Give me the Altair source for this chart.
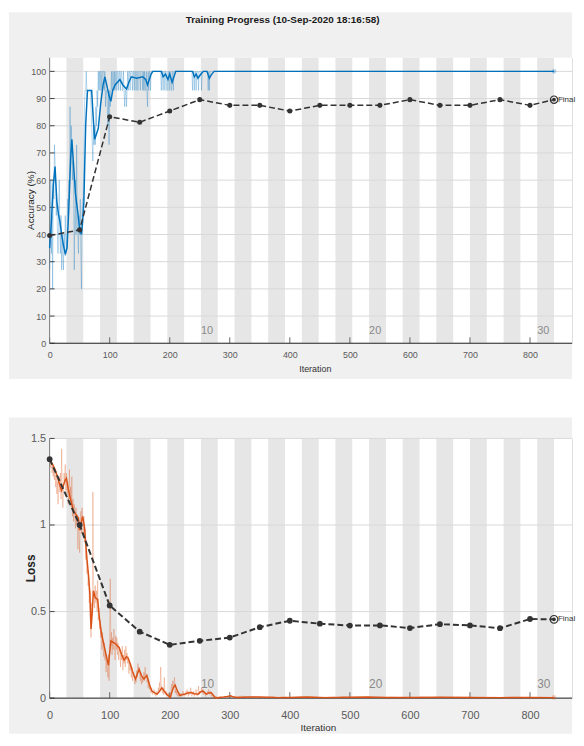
import altair as alt
import pandas as pd

# ---------------- data ----------------
epochs = list(range(1, 31))
iters_per_epoch = 28
epoch_label_epochs = [10, 20, 30]
x_ticks = [0, 100, 200, 300, 400, 500, 600, 700, 800]
acc_ticks = [0, 10, 20, 30, 40, 50, 60, 70, 80, 90, 100]
loss_ticks = [0, 0.5, 1, 1.5]

# raw mini-batch accuracy, per iteration 0..279, then the last iteration 840
acc_raw_val = (
    [27, 40, 60, 33, 47, 20, 60, 53, 73, 67, 60, 47, 53, 40, 33, 47, 60, 40, 33, 47, 27, 40, 33, 27, 40, 33, 47, 40]
    + [33, 40, 53, 47, 60, 53, 87, 67, 80, 73, 60, 67, 53, 27, 47, 60, 40, 73, 47, 40, 33, 47, 40, 53, 33, 20, 47, 53]
    + [53, 73, 87, 93, 93, 100, 93, 93, 93, 93, 93, 93, 93, 87, 80, 73, 67, 80, 73, 80, 73, 87, 80, 93, 87, 100, 93, 100]
    + [93, 100, 100, 93, 100, 100, 100, 93, 100, 87, 93, 93, 87, 80, 93, 73, 93, 87, 93, 100, 93, 100, 100, 93, 100, 93, 100, 100]
    + [93, 100, 100, 93, 100, 100, 93, 100, 100, 93, 93, 100, 93, 87, 93, 93, 87, 93, 100, 93, 100, 100, 93, 100, 100, 100, 93, 100]
    + [100, 93, 100, 100, 93, 100, 100, 93, 100, 100, 100, 93, 100, 100, 100, 93, 100, 93, 100, 93, 93, 100, 93, 87, 100, 93, 100, 100]
    + [93, 100, 100, 100, 100, 100, 100, 100, 100, 100, 100, 100, 100, 100, 100, 100, 100, 100, 93, 100, 100, 93, 100, 100, 93, 100, 100, 93]
    + [93, 100, 100, 93, 100, 100, 93, 93, 100, 100, 93, 100, 100, 100, 100, 100, 100, 100, 100, 100, 100, 100, 100, 100, 100, 100, 100, 100]
    + [100, 100, 100, 100, 100, 100, 100, 100, 100, 100, 100, 100, 100, 100, 93, 100, 100, 93, 100, 100, 93, 100, 100, 100, 93, 100, 100, 100]
    + [100, 93, 100, 100, 100, 100, 100, 100, 100, 100, 100, 100, 93, 100, 93, 100, 100, 100, 100, 100, 100, 100, 100, 100, 100, 100, 100, 100]
    + [100]
)
acc_raw_iter = list(range(0, 280)) + [840]

# smoothed training accuracy
acc_sm_iter = [0, 3, 6, 9, 12, 15, 17, 20, 23, 26, 29, 32, 35, 37, 40, 43, 47, 50, 53, 55, 57, 60, 63, 70,
               72, 75, 78, 81, 85, 89, 92, 95, 99, 102, 105, 109, 113, 117, 122, 128, 132, 136, 145, 155,
               160, 163, 166, 169, 172, 186, 189, 193, 197, 200, 204, 207, 210, 238, 241, 244, 247, 252,
               256, 262, 266, 270, 274, 840]
acc_sm_val = [35, 45, 58, 65, 52, 47, 45, 40, 36, 33, 35, 50, 68, 75, 65, 55, 48, 42, 40, 45, 52, 80, 93, 93,
              85, 75, 77, 79, 88, 95, 98, 95, 91, 89, 93, 95, 96, 97, 95, 93.5, 96, 98, 97.5, 98,
              97, 95, 97, 99, 100, 100, 98, 99, 97, 99, 96, 98, 100, 100, 98, 99, 97.5, 99,
              100, 100, 97.5, 99, 100, 100]

# raw mini-batch loss, per iteration 0..279, then every 10 iterations 290..840
loss_raw_val = (
    [1.38, 1.36, 1.33, 1.37, 1.30, 1.34, 1.28, 1.32, 1.26, 1.30, 1.22, 1.29, 1.18, 1.25, 1.12, 1.22, 1.28, 1.19, 1.30, 1.15, 1.44, 1.22, 1.10, 1.18, 1.30, 1.25, 1.35, 1.20]
    + [1.30, 1.18, 1.25, 1.12, 1.20, 1.32, 1.15, 1.22, 1.10, 1.28, 1.05, 1.15, 1.02, 1.12, 1.08, 0.98, 1.10, 1.00, 1.06, 0.86, 1.02, 0.95, 0.84, 1.00, 1.08, 0.95, 1.10, 1.02]
    + [0.95, 1.05, 0.90, 0.98, 0.80, 0.85, 0.72, 0.78, 0.65, 0.70, 0.55, 0.62, 0.42, 0.35, 0.55, 0.48, 1.19, 0.70, 0.60, 0.52, 0.65, 0.55, 0.62, 0.50, 0.68, 0.45, 0.52, 0.40]
    + [0.45, 0.35, 0.40, 0.28, 0.38, 0.30, 0.24, 0.32, 0.22, 0.26, 0.15, 0.22, 0.18, 0.12, 0.25, 0.10, 0.40, 0.69, 0.30, 0.38, 0.25, 0.35, 0.28, 0.40, 0.30, 0.22, 0.36, 0.28]
    + [0.35, 0.25, 0.32, 0.22, 0.30, 0.28, 0.18, 0.26, 0.22, 0.30, 0.16, 0.25, 0.20, 0.28, 0.18, 0.30, 0.22, 0.26, 0.20, 0.24, 0.14, 0.22, 0.16, 0.20, 0.12, 0.18, 0.10, 0.15]
    + [0.14, 0.10, 0.08, 0.12, 0.09, 0.16, 0.12, 0.20, 0.15, 0.18, 0.13, 0.10, 0.14, 0.08, 0.12, 0.09, 0.11, 0.15, 0.10, 0.18, 0.12, 0.14, 0.09, 0.11, 0.06, 0.10, 0.05, 0.07]
    + [0.05, 0.03, 0.06, 0.02, 0.04, 0.03, 0.05, 0.02, 0.03, 0.01, 0.04, 0.03, 0.02, 0.06, 0.04, 0.09, 0.05, 0.18, 0.07, 0.04, 0.03, 0.06, 0.02, 0.12, 0.03, 0.02, 0.04, 0.01]
    + [0.02, 0.01, 0.03, 0.00, 0.01, 0.00, 0.05, 0.08, 0.04, 0.10, 0.06, 0.09, 0.12, 0.03, 0.05, 0.02, 0.04, 0.01, 0.02, 0.01, 0.03, 0.01, 0.02, 0.03, 0.01, 0.02, 0.04, 0.02]
    + [0.03, 0.01, 0.02, 0.04, 0.02, 0.05, 0.03, 0.01, 0.04, 0.02, 0.03, 0.06, 0.02, 0.01, 0.03, 0.02, 0.04, 0.01, 0.02, 0.03, 0.05, 0.02, 0.01, 0.03, 0.07, 0.02, 0.04, 0.03]
    + [0.04, 0.06, 0.03, 0.05, 0.02, 0.04, 0.03, 0.02, 0.01, 0.03, 0.02, 0.04, 0.03, 0.05, 0.02, 0.04, 0.03, 0.01, 0.02, 0.01, 0.00, 0.01, 0.00, 0.01, 0.00, 0.00, 0.01, 0.00]
    + [0.005, 0.010, 0.006, 0.012, 0.004, 0.008, 0.003, 0.006, 0.010, 0.004,
       0.007, 0.003, 0.005, 0.008, 0.004, 0.006, 0.003, 0.005, 0.007, 0.004,
       0.009, 0.003, 0.005, 0.004, 0.006, 0.003, 0.005, 0.004, 0.006, 0.003,
       0.004, 0.005, 0.003, 0.006, 0.004, 0.003, 0.005, 0.004, 0.003, 0.005,
       0.004, 0.006, 0.003, 0.004, 0.003, 0.005, 0.004, 0.003, 0.004, 0.005,
       0.003, 0.004, 0.003, 0.004, 0.003, 0.004]
)
loss_raw_iter = list(range(0, 280)) + list(range(290, 841, 10))

# smoothed training loss
loss_sm_iter = [0, 5, 9, 13, 16, 20, 23, 26, 28, 31, 34, 37, 40, 44, 48, 50, 53, 55, 58, 62, 65, 67, 69, 71,
                73, 76, 80, 83, 86, 89, 94, 98, 102, 107, 111, 116, 120, 124, 128, 131, 135, 138, 143,
                146, 149, 153, 157, 162, 166, 170, 175, 179, 183, 187, 191, 195, 201, 204, 206, 209, 213,
                217, 221, 225, 230, 236, 241, 247, 251, 255, 261, 265, 269, 273, 277, 284, 290, 296, 301,
                307, 312, 330, 351, 380, 400, 430, 460, 500, 530, 560, 600, 650, 700, 750, 800, 840]
loss_sm_val = [1.38, 1.35, 1.32, 1.28, 1.24, 1.20, 1.23, 1.26, 1.27, 1.21, 1.16, 1.12, 1.08, 1.06, 1.04, 0.97,
               1.02, 1.05, 0.99, 0.81, 0.70, 0.60, 0.40, 0.50, 0.62, 0.58, 0.57, 0.46, 0.38, 0.33, 0.25,
               0.19, 0.33, 0.32, 0.31, 0.29, 0.25, 0.22, 0.24, 0.23, 0.19, 0.155, 0.11, 0.14, 0.166,
               0.13, 0.11, 0.13, 0.08, 0.042, 0.03, 0.023, 0.04, 0.06, 0.04, 0.023, 0.004, 0.04, 0.06,
               0.075, 0.04, 0.015, 0.02, 0.023, 0.03, 0.032, 0.025, 0.023, 0.035, 0.042, 0.023, 0.03,
               0.032, 0.015, 0.0, 0.005, 0.007, 0.01, 0.013, 0.006, 0.004, 0.006, 0.007, 0.003, 0.004,
               0.006, 0.003, 0.005, 0.007, 0.004, 0.004, 0.005, 0.004, 0.003, 0.004, 0.003]

# validation
val_iter = [0, 50, 100, 150, 200, 250, 300, 350, 400, 450, 500, 550, 600, 650, 700, 750, 800, 840]
acc_val = [39.6, 41.7, 83.3, 81.3, 85.4, 89.6, 87.5, 87.5, 85.4, 87.5, 87.5, 87.5, 89.6, 87.5, 87.5, 89.6, 87.5, 89.6]
loss_val = [1.38, 1.00, 0.535, 0.384, 0.308, 0.331, 0.350, 0.41, 0.447, 0.43, 0.419, 0.42, 0.405, 0.427,
            0.42, 0.404, 0.457, 0.455]

title_text = "Training Progress (10-Sep-2020 18:16:58)"

# ---------------- tables ----------------
bands_df = pd.DataFrame({
    "start": [(e - 1) * iters_per_epoch for e in epochs if e % 2 == 0],
    "end": [e * iters_per_epoch for e in epochs if e % 2 == 0],
})
ep_df = pd.DataFrame({"x": [(e - 1) * iters_per_epoch for e in epoch_label_epochs],
                      "t": [str(e) for e in epoch_label_epochs]})
xt_df = pd.DataFrame({"x": x_ticks})
one = pd.DataFrame({"a": [0]})

FONT_N = "Liberation Sans Narrow, Liberation Sans, Arial, sans-serif"
FONT = "Liberation Sans, Arial, sans-serif"
RIGHT = 527  # right edge of the grey panel, relative to the plot's left edge


def panel(W, H, xmax, ymax, yticks, yfmt, raw_x, raw_y, sm_x, sm_y, v_y, color,
          ytitle, ytitle_size, ytitle_weight, lab_size, xlab_pad, ep_size, ep_dy,
          xtitle_x, xtitle_y, xtitle_size, top_ext, bot_ext, dash_w, dot_size, ring_size,
          title=None):
    xs = alt.Scale(domain=[0, xmax], nice=False, zero=False)
    ys = alt.Scale(domain=[0, ymax], nice=False, zero=False)
    xax = alt.Axis(values=x_ticks, ticks=False, grid=False, domain=False, labelFont=FONT_N,
                   labelFontSize=lab_size, labelColor="#5a5a5a", labelPadding=xlab_pad,
                   title=None, zindex=1, format="d", labelFlush=False)
    yax = alt.Axis(values=yticks, ticks=False, grid=False, domain=False, labelFont=FONT_N,
                   labelFontSize=lab_size, labelColor="#5a5a5a", labelPadding=4,
                   title=None, zindex=1, format=yfmt)

    def X(f):
        return alt.X(f, type="quantitative", scale=xs, axis=xax)

    def Y(f):
        return alt.Y(f, type="quantitative", scale=ys, axis=yax)

    yt_df = pd.DataFrame({"y": yticks})
    raw_df = pd.DataFrame({"it": raw_x, "v": raw_y})
    sm_df = pd.DataFrame({"it": sm_x, "v": sm_y})
    val_df = pd.DataFrame({"it": val_iter, "v": v_y})
    val_pts = val_df[val_df["it"] <= 800]
    fin = val_df[val_df["it"] == val_iter[-1]].assign(lab="Final")
    end_df = raw_df[raw_df["it"] == raw_x[-1]]

    layers = [
        alt.Chart(one).mark_rect(color="#f0f0f0").encode(
            x=alt.value(-41), x2=alt.value(RIGHT), y=alt.value(-top_ext), y2=alt.value(H + bot_ext)),
        alt.Chart(one).mark_rect(color="#ffffff").encode(
            x=alt.value(0), x2=alt.value(W), y=alt.value(0), y2=alt.value(H)),
        alt.Chart(bands_df).mark_rect(color="#e6e6e6").encode(
            x=X("start"), x2="end", y=alt.value(0), y2=alt.value(H)),
        alt.Chart(yt_df).mark_rule(color="#d9d9d9", strokeWidth=1).encode(y=Y("y")),
        alt.Chart(yt_df).mark_rule(color="#444444", strokeWidth=1).encode(
            y=Y("y"), x=alt.value(0), x2=alt.value(5)),
        alt.Chart(xt_df).mark_rule(color="#666666", strokeWidth=1).encode(
            x=X("x"), y=alt.value(H - 6), y2=alt.value(H)),
        alt.Chart(one).mark_rule(color="#777777", strokeWidth=1).encode(
            x=alt.value(0), y=alt.value(0), y2=alt.value(H)),
        alt.Chart(one).mark_rule(color="#262626", strokeWidth=1).encode(
            x=alt.value(0), x2=alt.value(W), y=alt.value(H)),
        alt.Chart(ep_df).mark_text(align="left", baseline="middle", font=FONT_N, fontSize=ep_size,
                                   color="#8a8a8a").encode(
            x=X("x"), y=alt.value(H - ep_dy), text="t:N"),
        alt.Chart(raw_df).mark_line(color=color, strokeWidth=1, opacity=0.28).encode(
            x=X("it"), y=Y("v")),
        alt.Chart(sm_df).mark_line(color=color, strokeWidth=1.5).encode(x=X("it"), y=Y("v")),
        alt.Chart(end_df).mark_circle(color=color, opacity=0.3, size=22).encode(x=X("it"), y=Y("v")),
        alt.Chart(val_df).mark_line(color="#333333", strokeWidth=dash_w, strokeDash=[6, 3]).encode(
            x=X("it"), y=Y("v")),
        alt.Chart(val_pts).mark_circle(color="#333333", opacity=1, size=dot_size).encode(
            x=X("it"), y=Y("v")),
        alt.Chart(fin).mark_point(shape="circle", filled=False, color="#333333", strokeWidth=1.2,
                                  size=ring_size, opacity=1).encode(x=X("it"), y=Y("v")),
        alt.Chart(fin).mark_circle(color="#333333", opacity=1, size=14).encode(x=X("it"), y=Y("v")),
        alt.Chart(fin).mark_text(align="left", baseline="middle", dx=4, font=FONT_N, fontSize=8,
                                 color="#333333").encode(x=X("it"), y=Y("v"), text="lab:N"),
        alt.Chart(one).mark_text(angle=270, baseline="middle", align="center", font=FONT,
                                 fontSize=ytitle_size, fontWeight=ytitle_weight, color="#262626").encode(
            x=alt.value(-19), y=alt.value(H / 2), text=alt.value(ytitle)),
        alt.Chart(one).mark_text(baseline="middle", align="center", font=FONT_N,
                                 fontSize=xtitle_size, color="#333333").encode(
            x=alt.value(xtitle_x), y=alt.value(xtitle_y), text=alt.value("Iteration")),
    ]
    if title:
        layers.append(
            alt.Chart(one).mark_text(baseline="middle", align="center", font=FONT_N, fontSize=10,
                                     fontWeight="bold", color="#1a1a1a").encode(
                x=alt.value(235), y=alt.value(-38), text=alt.value(title)))
    return alt.layer(*layers).properties(width=W, height=H)


top = panel(W=RIGHT, H=288, xmax=870, ymax=105, yticks=acc_ticks, yfmt="d",
            raw_x=acc_raw_iter, raw_y=acc_raw_val, sm_x=acc_sm_iter, sm_y=acc_sm_val, v_y=acc_val,
            color="#0072BD", ytitle="Accuracy (%)", ytitle_size=10, ytitle_weight="normal",
            lab_size=9, xlab_pad=7, ep_size=11, ep_dy=12, xtitle_x=268, xtitle_y=314, xtitle_size=9,
            top_ext=46, bot_ext=36, dash_w=1.5, dot_size=26, ring_size=55, title=title_text)

bottom = panel(W=RIGHT, H=262, xmax=870, ymax=1.5, yticks=loss_ticks, yfmt="~g",
               raw_x=loss_raw_iter, raw_y=loss_raw_val, sm_x=loss_sm_iter, sm_y=loss_sm_val, v_y=loss_val,
               color="#D95319", ytitle="Loss", ytitle_size=12, ytitle_weight="bold",
               lab_size=11, xlab_pad=12, ep_size=12, ep_dy=14, xtitle_x=271, xtitle_y=292, xtitle_size=10,
               top_ext=21, bot_ext=36, dash_w=2, dot_size=34, ring_size=60)

chart = alt.vconcat(top, bottom, spacing=37).properties(padding=0).configure_view(
    strokeWidth=0).configure(background="#ffffff")

chart.save("out.html", embed_options={"renderer": "svg", "actions": False})
